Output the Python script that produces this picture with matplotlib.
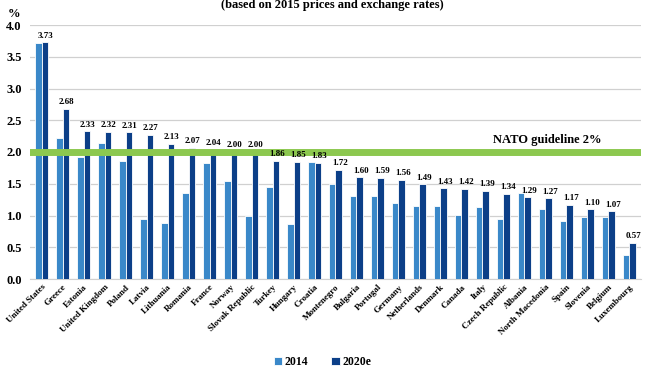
import numpy as np
import matplotlib.pyplot as plt

countries = ["United States", "Greece", "Estonia", "United Kingdom", "Poland", "Latvia",
             "Lithuania", "Romania", "France", "Norway", "Slovak Republic", "Turkey",
             "Hungary", "Croatia", "Montenegro", "Bulgaria", "Portugal", "Germany",
             "Netherlands", "Denmark", "Canada", "Italy", "Czech Republic", "Albania",
             "North Macedonia", "Spain", "Slovenia", "Belgium", "Luxembourg"]
y2014 = [3.72, 2.22, 1.92, 2.14, 1.86, 0.94, 0.88, 1.35, 1.82, 1.55, 0.99, 1.45,
         0.86, 1.84, 1.50, 1.31, 1.31, 1.19, 1.15, 1.15, 1.01, 1.14, 0.95, 1.35,
         1.10, 0.92, 0.97, 0.97, 0.38]
y2020 = [3.73, 2.68, 2.33, 2.32, 2.31, 2.27, 2.13, 2.07, 2.04, 2.00, 2.00, 1.86,
         1.85, 1.83, 1.72, 1.60, 1.59, 1.56, 1.49, 1.43, 1.42, 1.39, 1.34, 1.29,
         1.27, 1.17, 1.10, 1.07, 0.57]
series = ["2014", "2020e"]
guideline = 2.0

plt.rcParams['font.family'] = ['Liberation Serif', 'DejaVu Serif']
c_light = "#3a88c9"
c_dark = "#0c3f88"

fig = plt.figure(figsize=(6.51, 3.72), dpi=100)
ax = fig.add_axes([30 / 651, 1 - 279 / 372, 611 / 651, 254 / 372])

x = np.arange(len(countries))
w = 0.3
ax.bar(x - w / 2, y2014, w, color=c_light, edgecolor="white", linewidth=0.6,
       label=series[0], zorder=3)
ax.bar(x + w / 2, y2020, w, color=c_dark, edgecolor="white", linewidth=0.6,
       label=series[1], zorder=3)

for xi, v in zip(x, y2020):
    ax.text(xi + w / 2 + 0.05, v + 0.04, f"{v:.2f}", ha="center", va="bottom",
            fontsize=6.5, fontweight="bold", zorder=5)

ax.axhline(guideline, color="#8cc84f", linewidth=5, zorder=4)
ax.text(0.935, guideline + 0.1, "NATO guideline 2%", transform=ax.get_yaxis_transform(),
        ha="right", va="bottom", fontsize=9, fontweight="bold")

ax.set_xlim(-0.55, len(countries) - 0.45)
ax.set_ylim(0, 4)
ax.set_yticks(np.arange(0, 4.01, 0.5))
ax.set_yticklabels([f"{t:.1f}" for t in np.arange(0, 4.01, 0.5)], fontsize=9,
                   fontweight="bold")
ax.yaxis.grid(True, color="#d0d0d0", linewidth=0.9, zorder=0)
ax.set_xticks(x)
ax.set_xticklabels(countries, rotation=45, ha="right", rotation_mode="anchor",
                   fontsize=6.5, fontweight="bold")
ax.tick_params(axis="both", length=0, pad=3)
ax.tick_params(axis="y", pad=6)
for s in ["top", "right", "left"]:
    ax.spines[s].set_visible(False)
ax.spines["bottom"].set_color("#d0d0d0")

fig.text(14 / 651, 1 - 14 / 372, "%", fontsize=9, fontweight="bold", ha="center", va="center")
fig.text(0.51, 1 - 5 / 372, "(based on 2015 prices and exchange rates)", fontsize=9,
         fontweight="bold", ha="center", va="center")

fig.legend(loc="center", bbox_to_anchor=(0.495, 1 - 362 / 372), ncol=2, frameon=False,
           handlelength=0.7, handleheight=0.7, handletextpad=0.2,
           columnspacing=2.0, prop={"weight": "bold", "size": 8.5})

fig.savefig("out.png", dpi=100)
